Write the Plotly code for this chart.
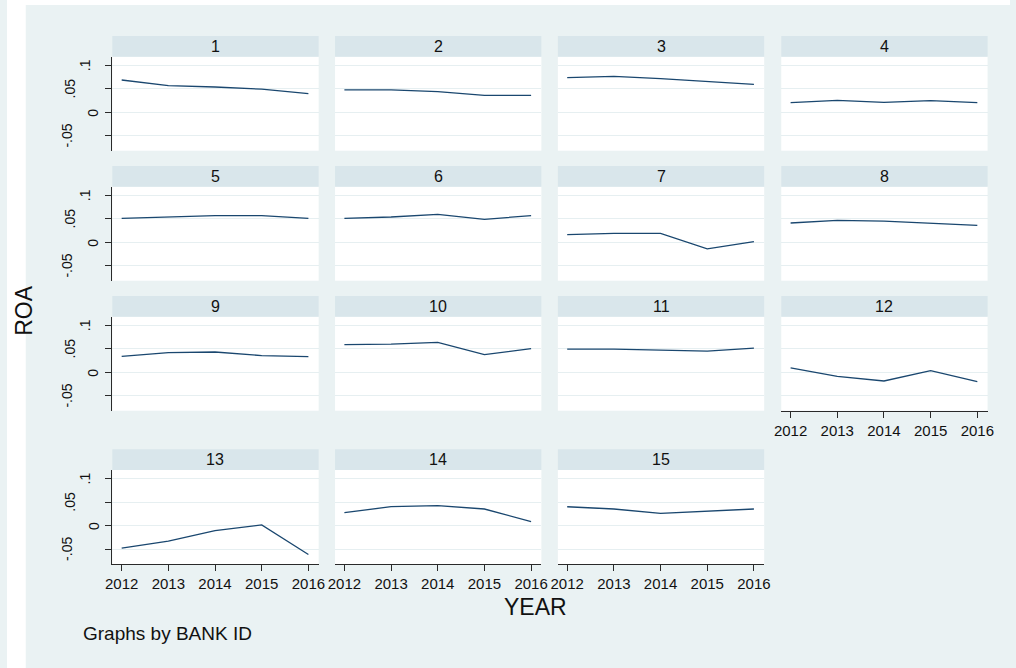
import plotly.graph_objects as go

# ---------------- data ----------------
years = [2012, 2013, 2014, 2015, 2016]
bank_ids = ["1", "2", "3", "4", "5", "6", "7", "8", "9", "10", "11", "12", "13", "14", "15"]
roa_1 = [0.0686, 0.0566, 0.0537, 0.0490, 0.0396]
roa_2 = [0.0474, 0.0474, 0.0438, 0.0360, 0.0360]
roa_3 = [0.0735, 0.0764, 0.0714, 0.0650, 0.0594]
roa_4 = [0.0205, 0.0255, 0.0212, 0.0248, 0.0205]
roa_5 = [0.0509, 0.0537, 0.0566, 0.0566, 0.0509]
roa_6 = [0.0509, 0.0537, 0.0594, 0.0488, 0.0566]
roa_7 = [0.0163, 0.0190, 0.0190, -0.0141, 0.0014]
roa_8 = [0.0410, 0.0467, 0.0450, 0.0410, 0.0360]
roa_9 = [0.0340, 0.0417, 0.0431, 0.0354, 0.0332]
roa_10 = [0.0587, 0.0600, 0.0637, 0.0375, 0.0502]
roa_11 = [0.0490, 0.0490, 0.0470, 0.0450, 0.0515]
roa_12 = [0.0092, -0.0085, -0.0184, 0.0035, -0.0198]
roa_13 = [-0.0479, -0.0331, -0.0106, 0.0014, -0.0613]
roa_14 = [0.0275, 0.0401, 0.0423, 0.0352, 0.0085]
roa_15 = [0.0400, 0.0352, 0.0260, 0.0310, 0.0352]
series = [roa_1, roa_2, roa_3, roa_4, roa_5, roa_6, roa_7, roa_8,
          roa_9, roa_10, roa_11, roa_12, roa_13, roa_14, roa_15]
y_tick_vals = [-0.05, 0, 0.05, 0.1]
y_tick_text = ["-.05", "0", ".05", ".1"]
x_tick_text = ["2012", "2013", "2014", "2015", "2016"]

# ---------------- layout constants (pixels) ----------------
W, H = 1016, 668
col_left = [106.7, 332.3, 558.0, 784.3]
panel_w = 209.0
row_top = [56.7, 186.7, 316.7, 470.0]
panel_h = 94.0
strip_h = 20.7
y_range = [-0.0815, 0.118]
x_range = [2011.8, 2016.22]
ylabel_xc = {"-.05": 60.5, "0": 87.5, ".05": 63.5, ".1": 79}

FONT = "Liberation Sans, Arial, sans-serif"
LINE_COLOR = "#1A476F"
BG = "#EAF2F3"
STRIP = "#D9E6EB"
GRID = "#E6EFF1"
AXIS = "#2a2a2a"

def px(x):
    return x / W

def py(y):
    return 1 - y / H

fig = go.Figure()
shapes = []
annotations = []
# white outer margins (left and top)
shapes.append(dict(type="rect", xref="paper", yref="paper", x0=0, x1=px(19), y0=0, y1=1,
                   fillcolor="white", line=dict(width=0), layer="below"))
shapes.append(dict(type="rect", xref="paper", yref="paper", x0=0, x1=1, y0=py(5), y1=1,
                   fillcolor="white", line=dict(width=0), layer="below"))

for i, vals in enumerate(series):
    r, c = divmod(i, 4)
    n = i + 1
    xs = "" if n == 1 else str(n)
    x0, x1 = col_left[c], col_left[c] + panel_w
    yt, yb = row_top[r], row_top[r] + panel_h
    fig.add_trace(go.Scatter(x=years, y=vals, mode="lines",
                             line=dict(color=LINE_COLOR, width=1.3),
                             xaxis="x" + xs, yaxis="y" + xs, showlegend=False,
                             hoverinfo="skip"))
    show_x = i >= 11
    fig.layout["xaxis" + xs] = dict(
        domain=[px(x0), px(x1)], anchor="y" + xs, range=x_range,
        showgrid=False, zeroline=False,
        showline=show_x, linecolor=AXIS, linewidth=1,
        ticks="outside" if show_x else "", ticklen=6, tickcolor=AXIS, tickwidth=1,
        tickvals=years, ticktext=x_tick_text, showticklabels=show_x,
        tickfont=dict(family=FONT, size=15, color="#111"),
        fixedrange=True)
    show_y = c == 0
    fig.layout["yaxis" + xs] = dict(
        domain=[py(yb), py(yt)], anchor="x" + xs, range=y_range,
        showgrid=True, gridcolor=GRID, gridwidth=1.2, zeroline=False,
        tickvals=y_tick_vals, showticklabels=False,
        showline=show_y, linecolor=AXIS, linewidth=1,
        ticks="outside" if show_y else "", ticklen=6, tickcolor=AXIS, tickwidth=1,
        fixedrange=True)
    # strip
    shapes.append(dict(type="rect", xref="paper", yref="paper",
                       x0=px(x0), x1=px(x1), y0=py(yt), y1=py(yt - strip_h),
                       fillcolor=STRIP, line=dict(width=0), layer="below"))
    annotations.append(dict(xref="paper", yref="paper", x=px((x0 + x1) / 2),
                            y=py(yt - strip_h / 2), text=bank_ids[i], showarrow=False,
                            xanchor="center", yanchor="middle",
                            font=dict(family=FONT, size=16, color="#111")))
    if show_y:
        for v, t in zip(y_tick_vals, y_tick_text):
            annotations.append(dict(xref="paper", yref="y" + xs, x=px(ylabel_xc[t]), y=v,
                                    text=t, textangle=-90, showarrow=False,
                                    xanchor="center", yanchor="middle",
                                    font=dict(family=FONT, size=14, color="#111")))

# axis titles and note
annotations.append(dict(xref="paper", yref="paper", x=px(17), y=py(310), text="ROA",
                        textangle=-90, showarrow=False, xanchor="center", yanchor="middle",
                        font=dict(family=FONT, size=23, color="#111")))
annotations.append(dict(xref="paper", yref="paper", x=px(535), y=py(606.5), text="YEAR",
                        showarrow=False, xanchor="center", yanchor="middle",
                        font=dict(family=FONT, size=23, color="#111")))
annotations.append(dict(xref="paper", yref="paper", x=px(75), y=py(633),
                        text="Graphs by BANK ID", showarrow=False,
                        xanchor="left", yanchor="middle",
                        font=dict(family=FONT, size=19, color="#111")))

fig.update_layout(width=W, height=H, margin=dict(l=0, r=0, t=0, b=0, pad=0),
                  paper_bgcolor=BG, plot_bgcolor="white",
                  shapes=shapes, annotations=annotations, showlegend=False)

fig.write_html("out.html", config={"displayModeBar": False},
               post_script="document.body.style.margin='0px';"
                           "document.body.style.padding='0px';"
                           "document.documentElement.style.overflow='hidden';")
